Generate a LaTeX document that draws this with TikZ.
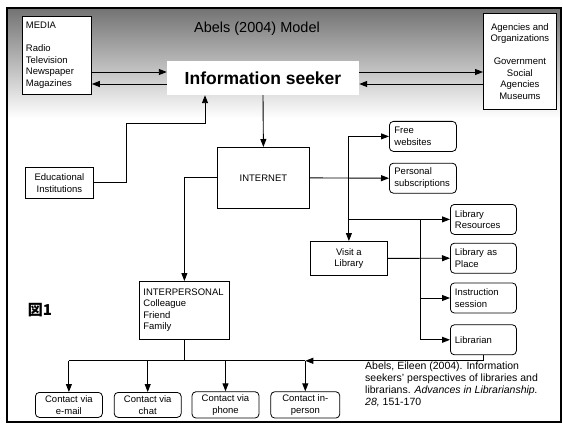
\documentclass[tikz,border=0pt]{standalone}
\usepackage{fontspec}
\setmainfont{Liberation Sans}
\newfontfamily\cjkfont{Noto Sans CJK JP}
\usetikzlibrary{arrows.meta, positioning}

\begin{document}
\begin{tikzpicture}[
    x=1pt, y=-1pt,
    >={Triangle[length=8pt,width=6pt]},
    box/.style={rectangle, draw, line width=0.8pt, fill=white, anchor=north west, inner sep=3pt, font=\fontsize{9.5}{11.5}\selectfont},
    rbox/.style={box, rounded corners=4pt},
    side/.style={rbox, minimum width=67pt, minimum height=30pt, text width=57pt, align=left},
    contact/.style={rbox, minimum width=67pt, minimum height=25pt, align=center},
    link/.style={line width=0.9pt, ->}
]
    \useasboundingbox (0,0) rectangle (563,428);
    \shade[top color=black!55, middle color=black!38, bottom color=white] (7,8) rectangle (561,118);
    \draw[line width=1.6pt] (7,8) rectangle (561,422);

    \node[font=\fontsize{14.5}{16}\selectfont] (title) at (257,29) {Abels (2004) Model};
    \node[fill=white, minimum width=192pt, minimum height=34pt, font=\bfseries\fontsize{17.5}{19}\selectfont] (seeker) at (263,78) {Information seeker};
    \node[box, minimum width=69pt, minimum height=78pt, text width=62pt, align=left] (media) at (22,16) {MEDIA\\[11.5pt]Radio\\Television\\Newspaper\\Magazines};
    \node[box, minimum width=73pt, minimum height=96pt, align=center] (agencies) at (483,13) {Agencies and\\Organizations\\[11.5pt]Government\\Social\\Agencies\\Museums};
    \node[box, minimum width=68pt, minimum height=31pt, align=center] (edu) at (25,167) {Educational\\Institutions};
    \node[box, minimum width=92pt, minimum height=61pt] (internet) at (217,147) {INTERNET};
    \node[side] (free) at (389,121) {Free\\websites};
    \node[side, below=11pt of free] (personal) {Personal\\subscriptions};
    \node[side, minimum width=66pt] (libres) at (450,204) {Library\\Resources};
    \node[side, minimum width=66pt, below=8pt of libres] (place) {Library as\\Place};
    \node[side, minimum width=66pt, below=9pt of place] (instr) {Instruction\\session};
    \node[side, minimum width=66pt, below=11pt of instr] (librarian) {Librarian};
    \node[box, minimum width=77pt, minimum height=34pt, align=center] (visit) at (310,241) {Visit a\\Library};
    \node[box, minimum width=90pt, minimum height=58pt, text width=82pt, align=left] (interp) at (139,281) {INTERPERSONAL\\Colleague\\Friend\\Family};
    \node[contact] (email) at (35,392) {Contact via\\e-mail};
    \node[contact, right=11pt of email] (chat) {Contact via\\chat};
    \node[contact, right=10pt of chat] (phone) {Contact via\\phone};
    \node[contact, minimum width=69pt, right=11pt of phone] (inperson) {Contact in-\\person};
    \node[font=\cjkfont\bfseries\fontsize{15}{15}\selectfont] (fig) at (40,310) {図1};
    \node[anchor=north west, inner sep=0pt, align=left, font=\fontsize{10.5}{12}\selectfont] (cite) at (365,362) {Abels, Eileen (2004). Information\\seekers' perspectives of libraries and\\librarians. \textit{Advances in Librarianship.}\\\textit{28,} 151-170};

    \coordinate (inL) at ([yshift=6pt]seeker.west);
    \coordinate (outL) at ([yshift=-6pt]seeker.west);
    \coordinate (outR) at ([yshift=6pt]seeker.east);
    \coordinate (inR) at ([yshift=-6pt]seeker.east);
    \draw[link] (media.east |- inL) -- (inL);
    \draw[link] (outL) -- (media.east |- outL);
    \draw[link] (outR) -- (agencies.west |- outR);
    \draw[link] (agencies.west |- inR) -- (inR);
    \draw[link] (edu.east) -| ++(33,-59) -| ([xshift=-58pt]seeker.south);
    \draw[link] (seeker.south) -- (internet.north);
    \draw[link] (internet.west) -| (interp.north);
    \draw[link] (internet.east) -- (personal.west);
    \draw[link] (visit.north |- free.west) -- (free.west);
    \draw[link] (visit.north |- free.west) -- (visit.north);
    \draw[link] (visit.north |- libres.west) -- (libres.west);
    \coordinate (branch) at ([xshift=-30pt]libres.west);
    \draw[link] (branch) |- (instr.west);
    \draw[link] (branch) |- (librarian.west);
    \draw[link] (visit.east) -- (place.west);

    \coordinate (bus) at ([yshift=-21pt]interp.south);
    \coordinate (busR) at (inperson.north |- bus);
    \draw[line width=0.9pt] (interp.south) -- (bus);
    \draw[line width=0.9pt] (email.north |- bus) -- (busR);
    \draw[link] (librarian.south) |- (busR);
    \foreach \c in {email, chat, phone, inperson}
        \draw[link] (\c.north |- bus) -- (\c.north);
\end{tikzpicture}
\end{document}
